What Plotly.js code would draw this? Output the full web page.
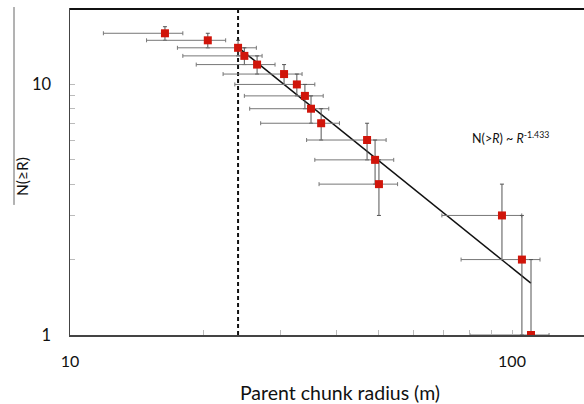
<!DOCTYPE html>
<html>
<head>
<meta charset="utf-8">
<script src="https://cdn.plot.ly/plotly-3.0.1.min.js"></script>
<style>
html,body{margin:0;padding:0;overflow:hidden;background:#fff;}
#chart{width:620px;height:404px;}
</style>
</head>
<body>
<div id="chart"></div>
<script>
// Parent chunk radius (m) and cumulative count N(>=R)
var radius = [16.4, 20.5, 24.0, 24.8, 26.5, 30.5, 32.6, 34.0, 35.1, 37.0, 47.0, 49.0, 50.0, 94.9, 105.3, 110.4];
var count  = [16, 15, 14, 13, 12, 11, 10, 9, 8, 7, 6, 5, 4, 3, 2, 1];
// horizontal error bar ends (m)
var radiusLow  = [11.9, 14.9, 17.5, 18.0, 19.3, 22.2, 23.6, 24.8, 25.5, 27.0, 34.3, 35.8, 36.6, 69.4, 76.7, 80.3];
var radiusHigh = [18.0, 22.5, 26.4, 27.2, 29.1, 33.5, 35.8, 37.4, 38.5, 40.7, 51.9, 54.0, 55.1, 105.2, 115.7, 121.3];
// vertical error (counts)
var countErr = [1, 1, 1, 1, 1, 1, 1, 1, 1, 1, 1, 1, 1, 1, 1, 1];
// power-law fit N(>R) ~ R^-1.433
var fitR = [24.0, 110.3];
var fitN = [14.06, 1.61];
// completeness cut
var cutR = [24.0, 24.0];
var cutN = [1, 20];

var errPlus = radius.map(function(r, i){ return radiusHigh[i] - r; });
var errMinus = radius.map(function(r, i){ return r - radiusLow[i]; });

var font = 'Lato, "Liberation Sans", sans-serif';

var traces = [
  {x: cutR, y: cutN, mode: 'lines', line: {color: '#111', width: 2, dash: '4px,3px'}, hoverinfo: 'skip'},
  {x: fitR, y: fitN, mode: 'lines', line: {color: '#111', width: 1.5}, hoverinfo: 'skip'},
  {x: radius, y: count, mode: 'markers', type: 'scatter',
   marker: {symbol: 'square', size: 8, color: '#d0150a'},
   error_x: {type: 'data', symmetric: false, array: errPlus, arrayminus: errMinus, color: '#777', thickness: 1, width: 2},
   error_y: {type: 'data', array: countErr, color: '#555', thickness: 1, width: 2}}
];

var layout = {
  width: 620, height: 404,
  margin: {l: 70, r: 10, t: 9, b: 69},
  paper_bgcolor: '#fff', plot_bgcolor: '#fff',
  showlegend: false,
  font: {family: font, color: '#111'},
  xaxis: {
    type: 'log', range: [1, 2.2217],
    tickvals: [10, 100], ticktext: ['10', '100'],
    ticks: 'inside', ticklen: 5, tickcolor: '#bbb',
    minor: {tickvals: [20, 30, 40, 50, 60, 70, 80, 90, 200], ticks: 'inside', ticklen: 5, tickcolor: '#bbb'},
    showgrid: false, zeroline: false,
    showline: true, linecolor: '#444', linewidth: 1.5, mirror: true,
    tickfont: {size: 16, family: font, color: '#111'},
    ticklabelstandoff: 11,
    title: {text: 'Parent chunk radius (m)', font: {size: 19.5, family: font, color: '#111'}, standoff: 20}
  },
  yaxis: {
    type: 'log', range: [0, 1.30103],
    tickvals: [1, 10], ticktext: ['1', '10'],
    ticks: 'inside', ticklen: 5, tickcolor: '#bbb',
    minor: {tickvals: [2, 3, 4, 5, 6, 7, 8, 9], ticks: 'inside', ticklen: 5, tickcolor: '#bbb'},
    showgrid: false, zeroline: false,
    showline: true, linecolor: '#444', linewidth: 1.5, mirror: true,
    tickfont: {size: 16.5, family: font, color: '#111'},
    ticklabelstandoff: 14
  },
  annotations: [
    {xref: 'paper', yref: 'paper', x: 0, y: 0.5, xshift: -48, yshift: -5,
     text: 'N(≥R)', textangle: -90, showarrow: false, xanchor: 'center', yanchor: 'middle',
     font: {size: 15.5, family: font, color: '#111'}},
    {xref: 'x', yref: 'y', x: 1.905, y: 0.788, xanchor: 'left', yanchor: 'middle', showarrow: false,
     text: 'N(&gt;<i>R</i>) ~ <i>R</i><sup>-1.433</sup>',
     font: {size: 12.5, family: font, color: '#111'}}
  ],
  shapes: [
    {type: 'line', xref: 'paper', yref: 'paper', xsizemode: 'pixel', xanchor: 0,
     x0: -56, x1: -56, y0: 0.399, y1: 1.006, line: {color: '#666', width: 1}},
    {type: 'line', xref: 'paper', yref: 'paper', x0: 0, x1: 1, y0: 1, y1: 1,
     line: {color: '#111', width: 2}}
  ]
};

Plotly.newPlot('chart', traces, layout, {displayModeBar: false, staticPlot: true});
</script>
</body>
</html>
